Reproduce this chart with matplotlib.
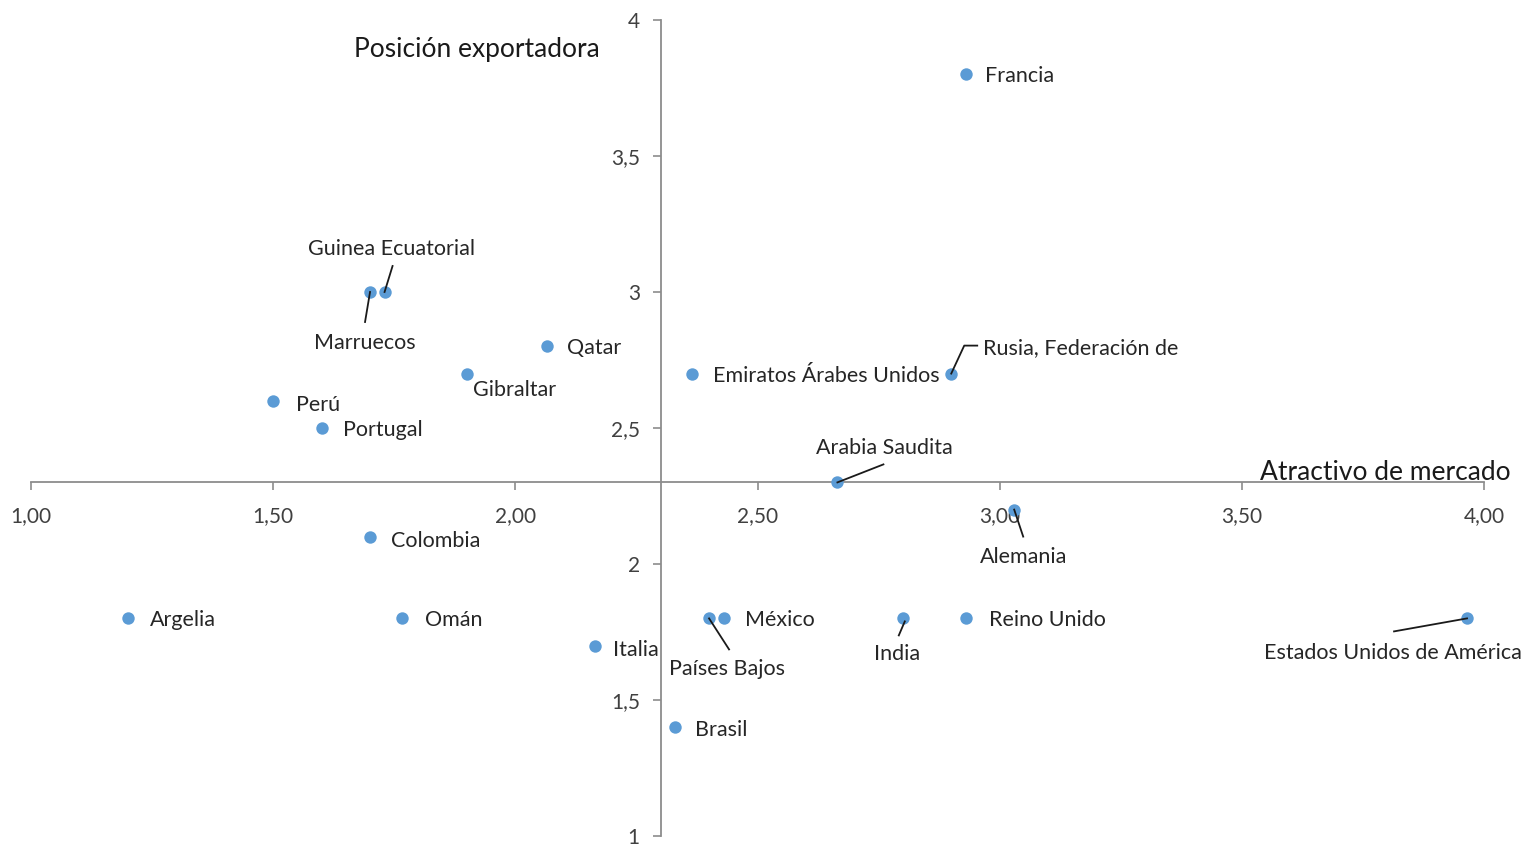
import matplotlib
matplotlib.use("Agg")
import matplotlib.pyplot as plt
from matplotlib.ticker import FuncFormatter, FixedLocator
from matplotlib.transforms import IdentityTransform

plt.rcParams['font.family'] = ['Lato', 'DejaVu Sans']

# ---- data ----
paises = ["Francia", "Guinea Ecuatorial", "Marruecos", "Qatar", "Gibraltar",
          "Emiratos Árabes Unidos", "Rusia, Federación de", "Perú", "Portugal",
          "Arabia Saudita", "Alemania", "Colombia", "Argelia", "Omán", "Italia",
          "Países Bajos", "México", "India", "Reino Unido",
          "Estados Unidos de América", "Brasil"]
atractivo = [2.93, 1.73, 1.70, 2.065, 1.90, 2.365, 2.90, 1.50, 1.60,
             2.665, 3.03, 1.70, 1.20, 1.765, 2.165, 2.40, 2.43, 2.80, 2.93,
             3.965, 2.33]
posicion = [3.80, 3.00, 3.00, 2.80, 2.70, 2.70, 2.70, 2.60, 2.50,
            2.30, 2.20, 2.10, 1.80, 1.80, 1.70, 1.80, 1.80, 1.80, 1.80,
            1.80, 1.40]
xticks = [1.0, 1.5, 2.0, 2.5, 3.0, 3.5, 4.0]
yticks = [1.0, 1.5, 2.0, 2.5, 3.0, 3.5, 4.0]
titulo_x = "Atractivo de mercado"
titulo_y = "Posición exportadora"

# label placement (pixel offsets from point: dx, dy(up positive), ha)
label_style = {
    "Francia": (19, -2, "left"),
    "Guinea Ecuatorial": (7, 43, "center"),
    "Marruecos": (-5, -51, "center"),
    "Qatar": (20, -2, "left"),
    "Gibraltar": (6, -16, "left"),
    "Emiratos Árabes Unidos": (21, -2, "left"),
    "Rusia, Federación de": (32, 26, "left"),
    "Perú": (23, -4, "left"),
    "Portugal": (21, -2, "left"),
    "Arabia Saudita": (47, 34, "center"),
    "Alemania": (9, -47, "center"),
    "Colombia": (21, -4, "left"),
    "Argelia": (22, -2, "left"),
    "Omán": (23, -2, "left"),
    "Italia": (18, -4, "left"),
    "Países Bajos": (18, -51, "center"),
    "México": (21, -2, "left"),
    "India": (-6, -36, "center"),
    "Reino Unido": (23, -2, "left"),
    "Estados Unidos de América": (-74, -35, "center"),
    "Brasil": (20, -3, "left"),
}
# leader lines: vertices as pixel offsets from the point
leaders = {
    "Guinea Ecuatorial": [(0, 0), (8, 26)],
    "Marruecos": [(0, 0), (-5, -30)],
    "Rusia, Federación de": [(0, 0), (13, 28), (26, 28)],
    "Arabia Saudita": [(0, 0), (46, 18)],
    "Alemania": [(0, 0), (9, -27)],
    "Países Bajos": [(0, 0), (20, -31)],
    "India": [(2, -3), (-4, -17)],
    "Estados Unidos de América": [(0, 0), (-73, -13)],
}

W, H = 1526, 848
fig = plt.figure(figsize=(W / 100, H / 100), dpi=100)
ax = fig.add_axes([31 / W, 12 / H, (1484 - 31) / W, (836 - 20) / H])
ax.set_xlim(1.0, 4.0)
ax.set_ylim(1.0, 4.0)

axis_col = "#8c8c8c"
for s in ["top", "right"]:
    ax.spines[s].set_visible(False)
ax.spines["left"].set_position(("data", 2.3))
ax.spines["bottom"].set_position(("data", 2.3))
for s in ["left", "bottom"]:
    ax.spines[s].set_color(axis_col)
    ax.spines[s].set_linewidth(1.3)

ax.xaxis.set_major_locator(FixedLocator(xticks))
ax.yaxis.set_major_locator(FixedLocator(yticks))
ax.xaxis.set_major_formatter(FuncFormatter(lambda v, p: f"{v:.2f}".replace(".", ",")))
ax.yaxis.set_major_formatter(FuncFormatter(
    lambda v, p: (f"{v:.0f}" if abs(v - round(v)) < 1e-9 else f"{v:.1f}").replace(".", ",")))
ax.tick_params(axis="both", direction="out", length=6, width=1.2, color=axis_col,
               labelsize=15, labelcolor="#404040")
ax.tick_params(axis="x", pad=11)
ax.tick_params(axis="y", pad=9)

ax.scatter(atractivo, posicion, s=80, color="#5b9bd5", zorder=3, linewidths=0)

for name, x, y in zip(paises, atractivo, posicion):
    dx, dy, ha = label_style[name]
    ax.annotate(name, (x, y), xytext=(dx, dy), textcoords="offset pixels",
                ha=ha, va="center", fontsize=15.5, color="#262626")
    if name in leaders:
        px, py = ax.transData.transform((x, y))
        xs = [px + ox for ox, oy in leaders[name]]
        ys = [py + oy for ox, oy in leaders[name]]
        ax.add_line(plt.Line2D(xs, ys, transform=IdentityTransform(),
                               color="#1a1a1a", lw=1.3, zorder=4))

fig.text(477 / W, 1 - 49 / H, titulo_y, ha="center", va="center",
         fontsize=19, color="#1a1a1a")
fig.text(1511 / W, 1 - 473 / H, titulo_x, ha="right", va="center",
         fontsize=19, color="#1a1a1a")

fig.savefig("out.png", dpi=100, facecolor="white")
